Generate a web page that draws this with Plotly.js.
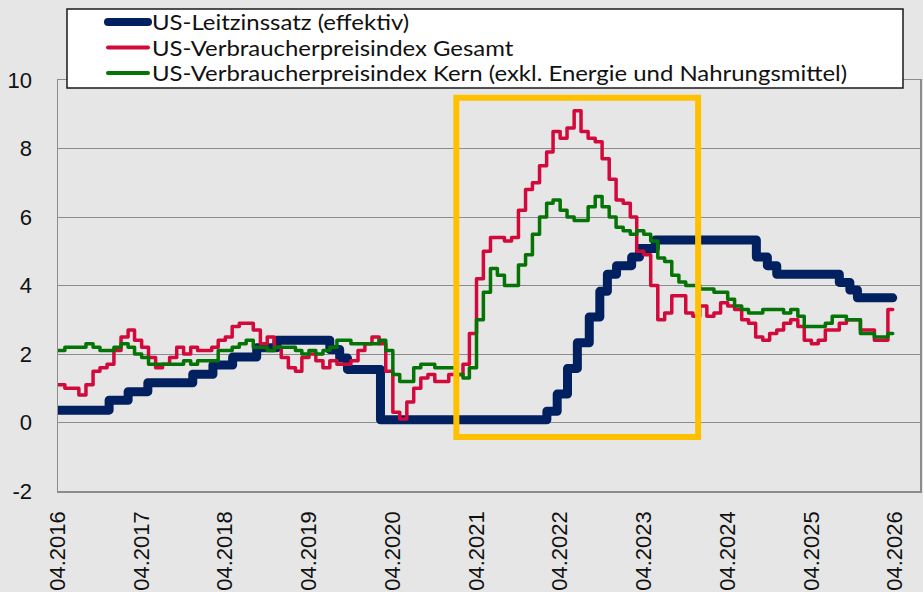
<!DOCTYPE html>
<html><head><meta charset="utf-8">
<script src="https://cdn.plot.ly/plotly-3.0.1.min.js"></script>
<style>
html,body{margin:0;padding:0;background:#e6e6e6;}
#chart{width:923px;height:592px;}
.annotation-text{transform-box:fill-box;transform-origin:0% 50%;transform:scaleX(1.14);}
</style></head><body><div id="chart"></div>
<script>
const seriesNames = [
  'US-Leitzinssatz (effektiv)',
  'US-Verbraucherpreisindex Gesamt',
  'US-Verbraucherpreisindex Kern (exkl. Energie und Nahrungsmittel)'
];
const seriesColors = ['#002060', '#D20A3C', '#067306'];
const seriesWidths = [9, 3.5, 3.5];

// Effective fed funds rate: change dates and levels
const blueDates = ['2016-04-01','2016-11-10','2017-02-01','2017-04-28','2017-11-10','2018-02-06','2018-05-03','2018-08-16','2018-11-12','2019-07-01','2019-08-13','2019-09-16','2020-02-07','2022-02-02','2022-03-19','2022-05-03','2022-06-15','2022-08-06','2022-09-21','2022-10-24','2022-12-03','2023-02-07','2023-03-13','2023-05-21','2024-08-04','2024-09-21','2024-11-01','2025-08-01','2025-09-16','2025-10-19','2026-03-22'];
const blueVals = [0.36,0.65,0.90,1.16,1.41,1.68,1.91,2.18,2.40,2.13,1.88,1.55,0.08,0.33,0.83,1.58,2.33,3.08,3.83,4.33,4.58,4.83,5.08,5.33,4.83,4.58,4.33,4.09,3.87,3.64,3.64];

// Monthly CPI yoy, 2016-04 .. 2026-03
const cpiHeadline = [
  1.1,1.0,1.0,0.8,1.1,1.5,1.6,1.7,2.1,
  2.5,2.7,2.4,2.2,1.9,1.6,1.7,1.9,2.2,2.0,2.2,2.1,
  2.1,2.2,2.4,2.5,2.8,2.9,2.9,2.7,2.3,2.5,2.2,1.9,
  1.6,1.5,1.9,2.0,1.8,1.6,1.8,1.7,1.7,1.8,2.1,2.3,
  2.5,2.3,1.5,0.3,0.1,0.6,1.0,1.3,1.4,1.2,1.2,1.4,
  1.4,1.7,2.6,4.2,5.0,5.4,5.4,5.3,5.4,6.2,6.8,7.0,
  7.5,7.9,8.5,8.3,8.6,9.1,8.5,8.3,8.2,7.7,7.1,6.5,
  6.4,6.0,5.0,4.9,4.0,3.0,3.2,3.7,3.7,3.2,3.1,3.4,
  3.1,3.2,3.5,3.4,3.3,3.0,2.9,2.5,2.4,2.6,2.7,2.9,
  3.0,2.8,2.4,2.3,2.4,2.7,2.7,2.9,3.0,3.0,2.7,2.7,
  2.4,2.4,3.3
];
const cpiCore = [
  2.1,2.2,2.2,2.2,2.3,2.2,2.1,2.1,2.2,
  2.3,2.2,2.0,1.9,1.7,1.7,1.7,1.7,1.7,1.8,1.7,1.8,
  1.8,1.8,2.1,2.1,2.2,2.3,2.4,2.2,2.2,2.1,2.2,2.2,
  2.2,2.1,2.0,2.1,2.0,2.1,2.2,2.4,2.4,2.3,2.3,2.3,
  2.3,2.4,2.1,1.4,1.2,1.2,1.6,1.7,1.7,1.6,1.6,1.6,
  1.4,1.3,1.6,3.0,3.8,4.5,4.3,4.0,4.0,4.6,4.9,5.5,
  6.0,6.4,6.5,6.2,6.0,5.9,5.9,6.3,6.6,6.3,6.0,5.7,
  5.6,5.5,5.6,5.5,5.3,4.8,4.7,4.3,4.1,4.0,4.0,3.9,
  3.9,3.8,3.8,3.6,3.4,3.3,3.2,3.2,3.3,3.3,3.3,3.2,
  3.3,3.1,2.8,2.8,2.8,2.9,3.1,3.1,3.0,3.0,2.6,2.6,
  2.5,2.5,2.6
];
const seriesEnd = '2026-03-22';
const yTickVals = [-2, 0, 2, 4, 6, 8, 10];
const yTickText = ['-2', '0', '2', '4', '6', '8', '10'];
const highlight = {from: '2021-01-03', to: '2023-11-24', low: -0.42, high: 9.48};

const months = [];
for (let y = 2016, m = 4; months.length < cpiHeadline.length; ) {
  months.push(y + '-' + String(m).padStart(2, '0') + '-01');
  m++; if (m > 12) { m = 1; y++; }
}
const cpiDates = months.concat([seriesEnd]);

const traces = [
  {x: blueDates, y: blueVals},
  {x: cpiDates, y: cpiHeadline.concat([cpiHeadline[cpiHeadline.length-1]])},
  {x: cpiDates, y: cpiCore.concat([cpiCore[cpiCore.length-1]])}
].map(function (t, i) {
  return Object.assign(t, {name: seriesNames[i], type: 'scatter', mode: 'lines', showlegend: false,
    line: {color: seriesColors[i], width: seriesWidths[i], shape: 'hv'}});
});

// plot area in pixels: left 58, right 920, top 80, bottom 491
const px = function (v) { return (v - 58) / 862; };
const py = function (v) { return (491 - v) / 411; };
const legendRows = [22, 47.5, 73];

const shapes = [
  {type: 'rect', xref: 'x', yref: 'y', x0: highlight.from, x1: highlight.to, y0: highlight.low, y1: highlight.high,
   line: {color: '#FFC000', width: 6}, fillcolor: 'rgba(0,0,0,0)', layer: 'above'},
  {type: 'rect', xref: 'paper', yref: 'paper', x0: px(67), x1: px(903), y0: py(88), y1: py(9),
   line: {color: '#1a1a1a', width: 1.5}, fillcolor: '#ffffff', layer: 'above'}
];
const annotations = [];
seriesNames.forEach(function (n, i) {
  shapes.push({type: 'line', xref: 'paper', yref: 'paper', x0: px(108), x1: px(148),
    y0: py(legendRows[i]), y1: py(legendRows[i]),
    line: {color: seriesColors[i], width: i === 0 ? 8 : 4}, layer: 'above'});
  annotations.push({xref: 'paper', yref: 'paper', x: px(151), y: py(legendRows[i]),
    xanchor: 'left', yanchor: 'middle', showarrow: false, text: n, borderpad: 0,
    font: {family: 'Lato, sans-serif', size: 21, color: '#111'}});
});

const layout = {
  width: 923, height: 592,
  margin: {l: 58, r: 3, t: 80, b: 101, autoexpand: false},
  paper_bgcolor: '#e6e6e6', plot_bgcolor: '#e6e6e6',
  showlegend: false,
  xaxis: {type: 'date', range: ['2016-04-01', '2026-07-19'], tick0: '2016-04-01', dtick: 'M12',
          tickformat: '%m.%Y', tickangle: -90, showgrid: false, zeroline: false,
          showline: true, linecolor: '#8c8c8c', linewidth: 1.5, mirror: true, ticks: '',
          ticklabelstandoff: 10,
          tickfont: {family: 'Liberation Sans, Arial, sans-serif', size: 22, color: '#111'}},
  yaxis: {range: [-2, 10], tickvals: yTickVals, ticktext: yTickText, showgrid: true, gridcolor: '#8c8c8c', gridwidth: 1,
          zeroline: false, showline: true, linecolor: '#8c8c8c', linewidth: 1.5, mirror: true, ticks: '',
          ticklabelstandoff: 20,
          tickfont: {family: 'Liberation Sans, Arial, sans-serif', size: 22, color: '#111'}},
  shapes: shapes,
  annotations: annotations,
  hovermode: false
};

Plotly.newPlot('chart', traces, layout, {displayModeBar: false, staticPlot: true}).then(function (gd) {
  gd.querySelectorAll('.scatterlayer path.js-line').forEach(function (p) {
    p.style.setProperty('stroke-linecap', 'round');
    p.style.setProperty('stroke-linejoin', 'round');
  });
  gd.querySelectorAll('.shapelayer path').forEach(function (p) {
    if (p.getAttribute('data-index') >= '2') p.style.setProperty('stroke-linecap', 'round');
  });
});
</script></body></html>
